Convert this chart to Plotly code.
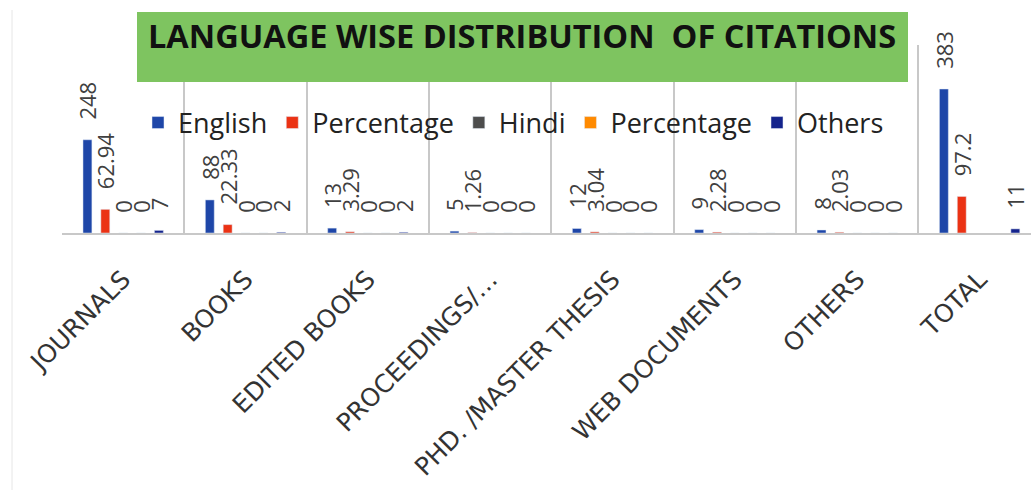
import plotly.graph_objects as go

categories = ["JOURNALS", "BOOKS", "EDITED BOOKS", "PROCEEDINGS/…",
              "PHD. /MASTER THESIS", "WEB DOCUMENTS", "OTHERS", "TOTAL"]
english = [248, 88, 13, 5, 12, 9, 8, 383]
english_pct = [62.94, 22.33, 3.29, 1.26, 3.04, 2.28, 2.03, 97.2]
hindi = [0, 0, 0, 0, 0, 0, 0, None]
hindi_pct = [0, 0, 0, 0, 0, 0, 0, None]
others = [7, 2, 2, 0, 0, 0, 0, 11]

series = [
    ("English", english, "#1E46A8"),
    ("Percentage", english_pct, "#EB3214"),
    ("Hindi", hindi, "#4D4D4D"),
    ("Percentage", hindi_pct, "#FF8A00"),
    ("Others", others, "#14238C"),
]

W, H = 1031, 490
ML, MR, MT, MB = 62, 0, 45, 257
PW = W - ML - MR
PH = H - MT - MB


def px_x(x):
    return (x - ML) / PW


def px_y(y):
    return (H - MB - y) / PH


fig = go.Figure()
for name, vals, color in series:
    fig.add_trace(go.Bar(
        x=categories, y=vals, name=name, marker_color=color,
        texttemplate="\u00a0\u00a0\u00a0%{y}", textposition="outside",
        textangle=-90, constraintext="none", cliponaxis=False,
        textfont=dict(family="Open Sans", size=22, color="#404040"),
    ))

fig.update_layout(
    width=W, height=H,
    margin=dict(l=ML, r=MR, t=MT, b=MB, autoexpand=False),
    paper_bgcolor="white", plot_bgcolor="white",
    barmode="group", bargap=0.27, bargroupgap=0.5,
    showlegend=True,
    legend=dict(orientation="h", x=px_x(138), y=px_y(123),
                xanchor="left", yanchor="middle",
                bgcolor="rgba(0,0,0,0)",
                font=dict(family="Open Sans", size=27, color="#222222")),
    xaxis=dict(range=[-0.5, 7.42], tickson="boundaries", showgrid=True,
               gridcolor="#C8C8C8", gridwidth=1.5, ticks="",
               showline=True, linecolor="#C8C8C8", linewidth=1.5,
               tickangle=-45, ticklabelstandoff=20, automargin=False,
               tickfont=dict(family="DejaVu Sans", size=25, color="#333333")),
    yaxis=dict(range=[0, 500], showgrid=False, showticklabels=False,
               zeroline=False, showline=False, automargin=False),
    shapes=[
        dict(type="rect", xref="paper", yref="paper",
             x0=px_x(137), x1=px_x(908), y0=px_y(82), y1=px_y(12),
             fillcolor="#7EC460", line=dict(width=0), layer="above"),
        dict(type="line", xref="paper", yref="paper",
             x0=px_x(12), x1=px_x(12), y0=px_y(490), y1=px_y(10),
             line=dict(color="#E6E6E6", width=1)),
    ],
    annotations=[
        dict(text="LANGUAGE WISE DISTRIBUTION  OF CITATIONS",
             xref="paper", yref="paper", x=px_x(522), y=px_y(35),
             xanchor="center", yanchor="middle", showarrow=False,
             font=dict(family="Open Sans", size=32.5, color="#111111",
                       weight="bold")),
    ],
)

fig.write_html("out.html", config={"displayModeBar": False},
               post_script="document.body.style.margin='0';"
                           "document.body.style.overflow='hidden';")
